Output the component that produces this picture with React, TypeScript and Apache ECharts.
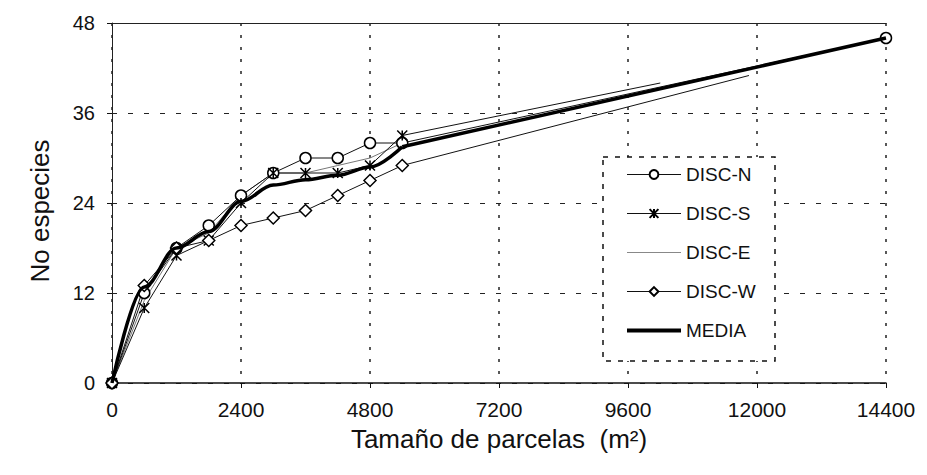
import React, { useEffect, useRef } from "react";
import * as echarts from "echarts";

// Plot sizes (m²) sampled for each transect
const SIZES = [0, 600, 1200, 1800, 2400, 3000, 3600, 4200, 4800, 5400];
// Number of species per transect
const DISC_N = [0, 12, 18, 21, 25, 28, 30, 30, 32, 32];
const DISC_S = [0, 10, 17, 19, 24, 28, 28, 28, 29, 33];
const DISC_E = [0, 11, 18, 20, 25, 28, 28, 29, 30, 32];
const DISC_W = [0, 13, 18, 19, 21, 22, 23, 25, 27, 29];
const MEDIA = [0, 12.8, 18, 20.2, 24.2, 26.4, 27.1, 27.7, 28.8, 31.5];
// last points reached by the longer series
const DISC_N_END = [14400, 46];
const DISC_S_END = [10200, 40];
const DISC_W_END = [11850, 41];
const MEDIA_END = [14400, 46];

const X_MAX = 14400;
const X_STEP = 2400;
const Y_MAX = 48;
const Y_STEP = 12;

const X_TITLE = "Tamaño de parcelas  (m²)";
const Y_TITLE = "No especies";
const NAMES = ["DISC-N", "DISC-S", "DISC-E", "DISC-W", "MEDIA"];

const FONT = "'Liberation Sans', Arial, Helvetica, sans-serif";
const STAR = "path://M0,0L10,10M10,0L0,10M5,0L5,10";

function pairs(ys: number[]) {
  return SIZES.map((x, i) => [x, ys[i]]);
}

export default function App() {
  const ref = useRef<HTMLDivElement>(null);
  useEffect(() => {
    if (!ref.current) return;
    const chart = echarts.init(ref.current, null, { renderer: "svg" });
    const thin = { color: "#111", width: 1 };
    const plain = (v: number) => String(v);
    const lastMedia = SIZES.length - 1;
    const legendThin = { color: "#111", width: 1 };
    const option: any = {
      animation: false,
      backgroundColor: "#fff",
      textStyle: { fontFamily: FONT },
      grid: { left: 112, top: 23, right: 41, bottom: 92, containLabel: false },
      xAxis: [
        {
          type: "value",
          min: 0,
          max: X_MAX,
          interval: X_STEP,
          name: X_TITLE,
          nameLocation: "middle",
          nameGap: 43,
          nameTextStyle: { fontSize: 26, color: "#111", fontFamily: FONT },
          axisLine: { show: true, lineStyle: { color: "#111", width: 1.5 } },
          axisTick: { show: true, length: 5, lineStyle: { color: "#111" } },
          axisLabel: { fontSize: 21, color: "#111", margin: 16, fontFamily: FONT, formatter: plain },
          splitLine: { show: true, lineStyle: { color: "#222", width: 1.5, type: [3, 9] } },
        },
        {
          type: "value",
          position: "top",
          min: 0,
          max: X_MAX,
          interval: X_STEP,
          axisLine: { show: true, lineStyle: { color: "#222", width: 1 } },
          axisTick: { show: false },
          axisLabel: { show: false },
          splitLine: { show: false },
        },
      ],
      yAxis: {
        type: "value",
        min: 0,
        max: Y_MAX,
        interval: Y_STEP,
        name: Y_TITLE,
        nameLocation: "middle",
        nameGap: 59,
        nameRotate: 90,
        nameTextStyle: { fontSize: 26, color: "#111", fontFamily: FONT, padding: [0, 16, 0, 0] },
        axisLine: { show: true, lineStyle: { color: "#222", width: 1 } },
        axisTick: { show: true, length: 5, lineStyle: { color: "#111" } },
        axisLabel: { fontSize: 20, color: "#111", margin: 17, fontFamily: FONT, formatter: plain },
        splitLine: { show: true, lineStyle: { color: "#222", width: 1.2, type: [5, 11] } },
      },
      legend: {
        orient: "vertical",
        left: 625,
        top: 165,
        padding: 0,
        itemWidth: 54,
        itemHeight: 11,
        itemGap: 20,
        data: [
          { name: NAMES[0], lineStyle: legendThin },
          { name: NAMES[1], lineStyle: legendThin },
          { name: NAMES[2], lineStyle: { color: "#888", width: 1 } },
          { name: NAMES[3], lineStyle: legendThin },
          { name: NAMES[4], lineStyle: { color: "#000", width: 4 } },
        ],
        textStyle: { fontSize: 19, color: "#111", fontFamily: FONT },
        z: 10,
      },
      graphic: [
        {
          type: "rect",
          z: 5,
          shape: { x: 603, y: 157, width: 172, height: 204 },
          style: { fill: "#fff", stroke: "#111", lineWidth: 1.5, lineDash: [5, 7] },
        },
      ],
      series: [
        {
          name: NAMES[0],
          type: "line",
          data: [...pairs(DISC_N), DISC_N_END],
          symbol: "circle",
          symbolSize: 11,
          lineStyle: thin,
          itemStyle: { color: "#fff", borderColor: "#000", borderWidth: 1.5 },
          z: 3,
        },
        {
          name: NAMES[1],
          type: "line",
          data: [...pairs(DISC_S), { value: DISC_S_END, symbol: "none" }],
          symbol: STAR,
          symbolSize: 10,
          lineStyle: thin,
          itemStyle: { color: "#fff", borderColor: "#000", borderWidth: 1.5 },
          z: 3,
        },
        {
          name: NAMES[2],
          type: "line",
          data: pairs(DISC_E),
          symbol: "none",
          lineStyle: { color: "#777", width: 1 },
          itemStyle: { color: "#777", opacity: 0 },
          z: 2,
        },
        {
          name: NAMES[3],
          type: "line",
          data: [...pairs(DISC_W), { value: DISC_W_END, symbol: "none" }],
          symbol: "diamond",
          symbolSize: 12,
          lineStyle: thin,
          itemStyle: { color: "#fff", borderColor: "#000", borderWidth: 1.5 },
          z: 3,
        },
        {
          name: NAMES[4],
          type: "line",
          data: pairs(MEDIA),
          symbol: "none",
          smooth: 0.35,
          smoothMonotone: "x",
          lineStyle: { color: "#000", width: 3.5 },
          itemStyle: { color: "#000", opacity: 0 },
          z: 4,
        },
        {
          name: NAMES[4],
          type: "line",
          data: [[SIZES[lastMedia], MEDIA[lastMedia]], MEDIA_END],
          symbol: "none",
          lineStyle: { color: "#000", width: 3.5 },
          itemStyle: { color: "#000", opacity: 0 },
          z: 4,
        },
      ],
    };
    chart.setOption(option);
    return () => chart.dispose();
  }, []);
  return (
    <div
      ref={ref}
      style={{ position: "fixed", left: 0, top: 0, width: 927, height: 475, background: "#fff" }}
    />
  );
}
